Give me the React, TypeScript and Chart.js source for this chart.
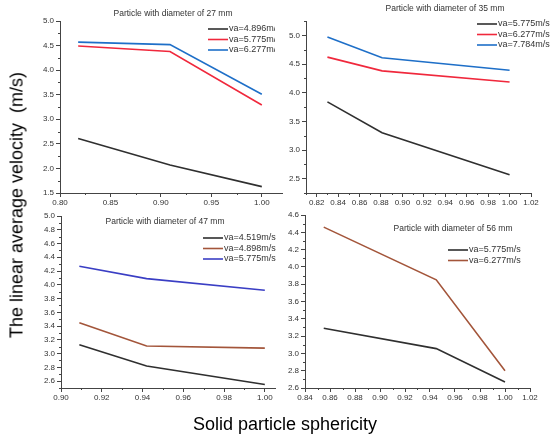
import { useEffect, useRef } from "react";
import { Chart, registerables } from "chart.js";

Chart.register(...registerables);

// ---- data ----
// particle diameter 27 mm
const sphericity27 = [0.818, 0.909, 1.0];
const vel27_4896 = [2.61, 2.07, 1.63];
const vel27_5775 = [4.49, 4.38, 3.29];
const vel27_6277 = [4.57, 4.52, 3.51];
const xTicks27 = [0.8, 0.85, 0.9, 0.95, 1.0];
const yTicks27 = [1.5, 2.0, 2.5, 3.0, 3.5, 4.0, 4.5, 5.0];

// particle diameter 35 mm
const sphericity35 = [0.83, 0.881, 1.0];
const vel35_5775 = [3.84, 3.3, 2.57];
const vel35_6277 = [4.62, 4.38, 4.185];
const vel35_7784 = [4.97, 4.61, 4.39];
const xTicks35 = [0.82, 0.84, 0.86, 0.88, 0.9, 0.92, 0.94, 0.96, 0.98, 1.0, 1.02];
const yTicks35 = [2.5, 3.0, 3.5, 4.0, 4.5, 5.0];

// particle diameter 47 mm
const sphericity47 = [0.909, 0.942, 1.0];
const vel47_4519 = [3.13, 2.82, 2.55];
const vel47_4896 = [3.45, 3.11, 3.08];
const vel47_5775 = [4.27, 4.09, 3.92];
const xTicks47 = [0.9, 0.92, 0.94, 0.96, 0.98, 1.0];
const yTicks47 = [2.6, 2.8, 3.0, 3.2, 3.4, 3.6, 3.8, 4.0, 4.2, 4.4, 4.6, 4.8, 5.0];

// particle diameter 56 mm
const sphericity56 = [0.855, 0.945, 1.0];
const vel56_5775 = [3.29, 3.055, 2.67];
const vel56_6277 = [4.46, 3.85, 2.8];
const xTicks56 = [0.84, 0.86, 0.88, 0.9, 0.92, 0.94, 0.96, 0.98, 1.0, 1.02];
const yTicks56 = [2.6, 2.8, 3.0, 3.2, 3.4, 3.6, 3.8, 4.0, 4.2, 4.4, 4.6];

const BLACK = "#2f2f2f";
const RED = "#f0283c";
const BLUE = "#1e6fc8";
const INDIGO = "#3a3ec4";
const BROWN = "#a3553a";
const AXIS = "#444";

const W = 550;
const H = 436;

interface Series {
  label: string;
  color: string;
  values: number[];
}

interface PanelProps {
  title: string;
  xs: number[];
  series: Series[];
  xTicks: number[];
  yTicks: number[];
  xRange: [number, number];
  yRange: [number, number];
  xDigits: number;
  plot: { left: number; top: number; right: number; bottom: number };
  titlePos: [number, number];
  legendPos: [number, number]; // x of line start, y of first row
  clipRight?: number;
}

// minor ticks half-way between the labelled ones
function minorOf(ticks: number[], min: number, max: number) {
  const out: number[] = [];
  const step = ticks[1] - ticks[0];
  const first = ticks[0] - step / 2;
  if (first >= min - 1e-9) out.push(first);
  for (let i = 0; i < ticks.length - 1; i++) out.push((ticks[i] + ticks[i + 1]) / 2);
  const last = ticks[ticks.length - 1] + step / 2;
  if (last <= max + 1e-9) out.push(last);
  return out;
}

const panelDecor = {
  id: "panelDecor",
  afterDraw(chart: any, _args: any, opts: any) {
    const ctx = chart.ctx;
    const { x, y } = chart.scales;
    ctx.save();
    ctx.strokeStyle = AXIS;
    ctx.lineWidth = 1;
    ctx.beginPath();
    opts.minorX.forEach((v: number) => {
      const px = Math.round(x.getPixelForValue(v)) + 0.5;
      ctx.moveTo(px, x.top);
      ctx.lineTo(px, x.top + 2);
    });
    opts.minorY.forEach((v: number) => {
      const py = Math.round(y.getPixelForValue(v)) + 0.5;
      ctx.moveTo(y.right, py);
      ctx.lineTo(y.right - 2, py);
    });
    ctx.stroke();

    // panel title
    ctx.fillStyle = "#333";
    ctx.font = "8.5px Arial, 'Liberation Sans', sans-serif";
    ctx.textAlign = "center";
    ctx.textBaseline = "middle";
    ctx.fillText(opts.title, opts.titlePos[0], opts.titlePos[1]);

    // legend
    if (opts.clipRight) {
      ctx.beginPath();
      ctx.rect(0, 0, opts.clipRight, H);
      ctx.clip();
    }
    ctx.font = "9px Arial, 'Liberation Sans', sans-serif";
    ctx.textAlign = "left";
    chart.data.datasets.forEach((ds: any, i: number) => {
      const lx = opts.legendPos[0];
      const ly = opts.legendPos[1] + i * 10.5;
      ctx.strokeStyle = ds.borderColor;
      ctx.lineWidth = 1.6;
      ctx.beginPath();
      ctx.moveTo(lx, ly);
      ctx.lineTo(lx + 20, ly);
      ctx.stroke();
      ctx.fillStyle = "#333";
      ctx.fillText(ds.label, lx + 21, ly);
    });
    ctx.restore();
  },
};

function Panel(props: PanelProps) {
  const ref = useRef<HTMLCanvasElement>(null);

  useEffect(() => {
    if (!ref.current) return;
    const p = props;
    const tickFont = { family: "Arial, 'Liberation Sans', sans-serif", size: 8 };
    const chart = new Chart(ref.current, {
      type: "line",
      data: {
        datasets: p.series.map((s) => ({
          label: s.label,
          data: p.xs.map((xv, i) => ({ x: xv, y: s.values[i] })),
          borderColor: s.color,
          backgroundColor: s.color,
          borderWidth: 1.6,
          pointRadius: 0,
          tension: 0,
          fill: false,
        })),
      },
      options: {
        animation: false,
        responsive: false,
        events: [],
        layout: {
          padding: {
            left: p.plot.left - 30,
            top: p.plot.top,
            right: W - p.plot.right,
            bottom: H - p.plot.bottom - 16,
          },
        },
        scales: {
          x: {
            type: "linear",
            min: p.xRange[0],
            max: p.xRange[1],
            afterBuildTicks: (scale: any) => {
              scale.ticks = p.xTicks.map((v) => ({ value: v }));
            },
            afterFit: (scale: any) => {
              scale.height = 16;
            },
            ticks: {
              autoSkip: false,
              maxRotation: 0,
              padding: 1,
              color: "#333",
              font: tickFont,
              callback: (v: any) => Number(v).toFixed(p.xDigits),
            },
            grid: { drawOnChartArea: false, drawTicks: true, tickLength: 4, color: AXIS },
            border: { display: true, color: AXIS, width: 1 },
          },
          y: {
            type: "linear",
            min: p.yRange[0],
            max: p.yRange[1],
            afterBuildTicks: (scale: any) => {
              scale.ticks = p.yTicks.map((v) => ({ value: v }));
            },
            afterFit: (scale: any) => {
              scale.width = 30;
            },
            ticks: {
              autoSkip: false,
              padding: 2,
              color: "#333",
              font: tickFont,
              callback: (v: any) => Number(v).toFixed(1),
            },
            grid: { drawOnChartArea: false, drawTicks: true, tickLength: 4, color: AXIS },
            border: { display: true, color: AXIS, width: 1 },
          },
        },
        plugins: {
          legend: { display: false },
          tooltip: { enabled: false },
          panelDecor: {
            title: p.title,
            titlePos: p.titlePos,
            legendPos: p.legendPos,
            clipRight: p.clipRight,
            minorX: minorOf(p.xTicks, p.xRange[0], p.xRange[1]),
            minorY: minorOf(p.yTicks, p.yRange[0], p.yRange[1]),
          },
        } as any,
      },
      plugins: [panelDecor],
    });
    return () => chart.destroy();
  }, []);

  return (
    <canvas
      ref={ref}
      width={W}
      height={H}
      style={{ position: "absolute", left: 0, top: 0, width: W, height: H }}
    />
  );
}

export default function App() {
  return (
    <div
      style={{
        position: "absolute",
        left: 0,
        top: 0,
        width: W,
        height: H,
        background: "#fff",
        fontFamily: "Arial, 'Liberation Sans', sans-serif",
        overflow: "hidden",
      }}
    >
      <Panel
        title="Particle with diameter of 27 mm"
        xs={sphericity27}
        series={[
          { label: "va=4.896m/s", color: BLACK, values: vel27_4896 },
          { label: "va=5.775m/s", color: RED, values: vel27_5775 },
          { label: "va=6.277m/s", color: BLUE, values: vel27_6277 },
        ]}
        xTicks={xTicks27}
        yTicks={yTicks27}
        xRange={[0.8, 1.02]}
        yRange={[1.5, 5.0]}
        xDigits={2}
        plot={{ left: 60, top: 21, right: 282, bottom: 193 }}
        titlePos={[173, 14]}
        legendPos={[208, 29]}
        clipRight={275}
      />
      <Panel
        title="Particle with diameter of 35 mm"
        xs={sphericity35}
        series={[
          { label: "va=5.775m/s", color: BLACK, values: vel35_5775 },
          { label: "va=6.277m/s", color: RED, values: vel35_6277 },
          { label: "va=7.784m/s", color: BLUE, values: vel35_7784 },
        ]}
        xTicks={xTicks35}
        yTicks={yTicks35}
        xRange={[0.81, 1.02]}
        yRange={[2.25, 5.25]}
        xDigits={2}
        plot={{ left: 306, top: 21, right: 531, bottom: 193 }}
        titlePos={[445, 9]}
        legendPos={[477, 24]}
      />
      <Panel
        title="Particle with diameter of 47 mm"
        xs={sphericity47}
        series={[
          { label: "va=4.519m/s", color: BLACK, values: vel47_4519 },
          { label: "va=4.898m/s", color: BROWN, values: vel47_4896 },
          { label: "va=5.775m/s", color: INDIGO, values: vel47_5775 },
        ]}
        xTicks={xTicks47}
        yTicks={yTicks47}
        xRange={[0.9, 1.005]}
        yRange={[2.5, 5.0]}
        xDigits={2}
        plot={{ left: 61, top: 216, right: 275, bottom: 388 }}
        titlePos={[165, 222]}
        legendPos={[203, 238]}
      />
      <Panel
        title="Particle with diameter of 56 mm"
        xs={sphericity56}
        series={[
          { label: "va=5.775m/s", color: BLACK, values: vel56_5775 },
          { label: "va=6.277m/s", color: BROWN, values: vel56_6277 },
        ]}
        xTicks={xTicks56}
        yTicks={yTicks56}
        xRange={[0.84, 1.02]}
        yRange={[2.6, 4.6]}
        xDigits={2}
        plot={{ left: 305, top: 215, right: 530, bottom: 388 }}
        titlePos={[453, 229]}
        legendPos={[448, 250]}
      />
      <div
        style={{
          position: "absolute",
          left: 17,
          top: 205,
          transform: "translate(-50%, -50%) rotate(-90deg)",
          whiteSpace: "nowrap",
          fontSize: 18,
          color: "#000",
        }}
      >
        The linear average velocity&nbsp;&nbsp;(m/s)
      </div>
      <div
        style={{
          position: "absolute",
          left: 285,
          top: 424,
          transform: "translate(-50%, -50%)",
          whiteSpace: "nowrap",
          fontSize: 18,
          color: "#000",
        }}
      >
        Solid particle sphericity
      </div>
    </div>
  );
}
